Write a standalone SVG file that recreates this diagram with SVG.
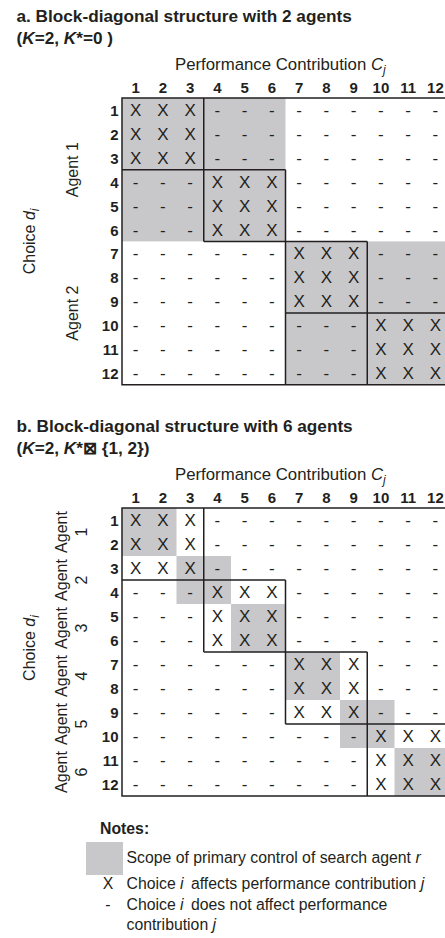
<svg xmlns="http://www.w3.org/2000/svg" width="445" height="938" viewBox="0 0 445 938">
<style>
text{font-family:"Liberation Sans",Arial,sans-serif;fill:#231f20}
.t{font-size:17.2px;font-weight:bold}
.lbl{font-size:16.8px}
.ag{font-size:16px;text-anchor:middle}
.h{font-size:15px;font-weight:bold;text-anchor:middle}
.m text{font-size:17px;text-anchor:middle}
.m text.n{font-size:15px;font-weight:bold;text-anchor:end}
.g{fill:#c8c8ca}
.ln{stroke:#231f20;stroke-width:1.5;fill:none}
.nt{font-size:15.8px}
</style>
<rect width="445" height="938" fill="#fff"/>

<g id="panel-a">
<text class="t" x="16.5" y="22">a. Block-diagonal structure with 2 agents</text>
<text class="t" x="16.5" y="44">(<tspan font-style="italic">K</tspan>=2, <tspan font-style="italic">K</tspan>*=0 )</text>
<text class="lbl" x="175" y="70">Performance Contribution <tspan font-style="italic">C</tspan><tspan font-style="italic" font-size="12" dy="4">j</tspan></text>
<g id="a-headers">
<text class="h" x="135.6" y="93">1</text><text class="h" x="162.9" y="93">2</text><text class="h" x="190.1" y="93">3</text><text class="h" x="217.4" y="93">4</text><text class="h" x="244.6" y="93">5</text><text class="h" x="271.9" y="93">6</text><text class="h" x="299.1" y="93">7</text><text class="h" x="326.4" y="93">8</text><text class="h" x="353.6" y="93">9</text><text class="h" x="380.9" y="93">10</text><text class="h" x="408.1" y="93">11</text><text class="h" x="435.4" y="93">12</text>
</g>
<g id="a-shading">
<rect class="g" x="122" y="98" width="163.5" height="143.4"/>
<rect class="g" x="285.5" y="241.4" width="163.5" height="143.4"/>
</g>
<g id="a-side">
<text class="ag" transform="translate(78,169.7) rotate(-90)">Agent 1</text>
<text class="ag" transform="translate(78,313.1) rotate(-90)">Agent 2</text>
<text class="ag" transform="translate(34.5,241.4) rotate(-90)">Choice <tspan font-style="italic">d</tspan><tspan font-style="italic" font-size="12" dy="4">i</tspan></text>
</g>
<g id="a-cells" class="m">
<g transform="translate(0,116)"><text class="n" x="118.5">1</text><text x="135.6">X</text><text x="162.9">X</text><text x="190.1">X</text><text x="217.4">-</text><text x="244.6">-</text><text x="271.9">-</text><text x="299.1">-</text><text x="326.4">-</text><text x="353.6">-</text><text x="380.9">-</text><text x="408.1">-</text><text x="435.4">-</text></g>
<g transform="translate(0,139.9)"><text class="n" x="118.5">2</text><text x="135.6">X</text><text x="162.9">X</text><text x="190.1">X</text><text x="217.4">-</text><text x="244.6">-</text><text x="271.9">-</text><text x="299.1">-</text><text x="326.4">-</text><text x="353.6">-</text><text x="380.9">-</text><text x="408.1">-</text><text x="435.4">-</text></g>
<g transform="translate(0,163.8)"><text class="n" x="118.5">3</text><text x="135.6">X</text><text x="162.9">X</text><text x="190.1">X</text><text x="217.4">-</text><text x="244.6">-</text><text x="271.9">-</text><text x="299.1">-</text><text x="326.4">-</text><text x="353.6">-</text><text x="380.9">-</text><text x="408.1">-</text><text x="435.4">-</text></g>
<g transform="translate(0,187.7)"><text class="n" x="118.5">4</text><text x="135.6">-</text><text x="162.9">-</text><text x="190.1">-</text><text x="217.4">X</text><text x="244.6">X</text><text x="271.9">X</text><text x="299.1">-</text><text x="326.4">-</text><text x="353.6">-</text><text x="380.9">-</text><text x="408.1">-</text><text x="435.4">-</text></g>
<g transform="translate(0,211.6)"><text class="n" x="118.5">5</text><text x="135.6">-</text><text x="162.9">-</text><text x="190.1">-</text><text x="217.4">X</text><text x="244.6">X</text><text x="271.9">X</text><text x="299.1">-</text><text x="326.4">-</text><text x="353.6">-</text><text x="380.9">-</text><text x="408.1">-</text><text x="435.4">-</text></g>
<g transform="translate(0,235.5)"><text class="n" x="118.5">6</text><text x="135.6">-</text><text x="162.9">-</text><text x="190.1">-</text><text x="217.4">X</text><text x="244.6">X</text><text x="271.9">X</text><text x="299.1">-</text><text x="326.4">-</text><text x="353.6">-</text><text x="380.9">-</text><text x="408.1">-</text><text x="435.4">-</text></g>
<g transform="translate(0,259.4)"><text class="n" x="118.5">7</text><text x="135.6">-</text><text x="162.9">-</text><text x="190.1">-</text><text x="217.4">-</text><text x="244.6">-</text><text x="271.9">-</text><text x="299.1">X</text><text x="326.4">X</text><text x="353.6">X</text><text x="380.9">-</text><text x="408.1">-</text><text x="435.4">-</text></g>
<g transform="translate(0,283.3)"><text class="n" x="118.5">8</text><text x="135.6">-</text><text x="162.9">-</text><text x="190.1">-</text><text x="217.4">-</text><text x="244.6">-</text><text x="271.9">-</text><text x="299.1">X</text><text x="326.4">X</text><text x="353.6">X</text><text x="380.9">-</text><text x="408.1">-</text><text x="435.4">-</text></g>
<g transform="translate(0,307.2)"><text class="n" x="118.5">9</text><text x="135.6">-</text><text x="162.9">-</text><text x="190.1">-</text><text x="217.4">-</text><text x="244.6">-</text><text x="271.9">-</text><text x="299.1">X</text><text x="326.4">X</text><text x="353.6">X</text><text x="380.9">-</text><text x="408.1">-</text><text x="435.4">-</text></g>
<g transform="translate(0,331.1)"><text class="n" x="118.5">10</text><text x="135.6">-</text><text x="162.9">-</text><text x="190.1">-</text><text x="217.4">-</text><text x="244.6">-</text><text x="271.9">-</text><text x="299.1">-</text><text x="326.4">-</text><text x="353.6">-</text><text x="380.9">X</text><text x="408.1">X</text><text x="435.4">X</text></g>
<g transform="translate(0,355)"><text class="n" x="118.5">11</text><text x="135.6">-</text><text x="162.9">-</text><text x="190.1">-</text><text x="217.4">-</text><text x="244.6">-</text><text x="271.9">-</text><text x="299.1">-</text><text x="326.4">-</text><text x="353.6">-</text><text x="380.9">X</text><text x="408.1">X</text><text x="435.4">X</text></g>
<g transform="translate(0,378.9)"><text class="n" x="118.5">12</text><text x="135.6">-</text><text x="162.9">-</text><text x="190.1">-</text><text x="217.4">-</text><text x="244.6">-</text><text x="271.9">-</text><text x="299.1">-</text><text x="326.4">-</text><text x="353.6">-</text><text x="380.9">X</text><text x="408.1">X</text><text x="435.4">X</text></g>
</g>
<g id="a-lines" class="ln">
<path d="M449 98 H122 V384.8 H449"/>
<path d="M203.75 98 V241.4 M122 169.7 H285.5 M285.5 169.7 V384.8 M203.75 241.4 H367.25 M367.25 241.4 V384.8 M285.5 313.1 H449"/>
</g>
</g>

<g id="panel-b">
<text class="t" x="16.5" y="432">b. Block-diagonal structure with 6 agents</text>
<text class="t" x="16.5" y="454">(<tspan font-style="italic">K</tspan>=2, <tspan font-style="italic">K</tspan>*⊠ {1, 2})</text>
<text class="lbl" x="175" y="480">Performance Contribution <tspan font-style="italic">C</tspan><tspan font-style="italic" font-size="12" dy="4">j</tspan></text>
<g id="b-headers">
<text class="h" x="135.6" y="503">1</text><text class="h" x="162.9" y="503">2</text><text class="h" x="190.1" y="503">3</text><text class="h" x="217.4" y="503">4</text><text class="h" x="244.6" y="503">5</text><text class="h" x="271.9" y="503">6</text><text class="h" x="299.1" y="503">7</text><text class="h" x="326.4" y="503">8</text><text class="h" x="353.6" y="503">9</text><text class="h" x="380.9" y="503">10</text><text class="h" x="408.1" y="503">11</text><text class="h" x="435.4" y="503">12</text>
</g>
<g id="b-shading">
<rect class="g" x="122" y="508" width="54.5" height="48"/>
<rect class="g" x="176.5" y="556" width="54.5" height="48"/>
<rect class="g" x="231" y="604" width="54.5" height="48"/>
<rect class="g" x="285.5" y="652" width="54.5" height="48"/>
<rect class="g" x="340" y="700" width="54.5" height="48"/>
<rect class="g" x="394.5" y="748" width="54.5" height="48"/>
</g>
<g id="b-side">
<text class="ag" transform="translate(0,532) rotate(-90)"><tspan x="0" y="67">Agent</tspan><tspan x="0" y="87">1</tspan></text>
<text class="ag" transform="translate(0,580) rotate(-90)"><tspan x="0" y="67">Agent</tspan><tspan x="0" y="87">2</tspan></text>
<text class="ag" transform="translate(0,628) rotate(-90)"><tspan x="0" y="67">Agent</tspan><tspan x="0" y="87">3</tspan></text>
<text class="ag" transform="translate(0,676) rotate(-90)"><tspan x="0" y="67">Agent</tspan><tspan x="0" y="87">4</tspan></text>
<text class="ag" transform="translate(0,724) rotate(-90)"><tspan x="0" y="67">Agent</tspan><tspan x="0" y="87">5</tspan></text>
<text class="ag" transform="translate(0,772) rotate(-90)"><tspan x="0" y="67">Agent</tspan><tspan x="0" y="87">6</tspan></text>
<text class="ag" transform="translate(35,648) rotate(-90)">Choice <tspan font-style="italic">d</tspan><tspan font-style="italic" font-size="12" dy="4">i</tspan></text>
</g>
<g id="b-cells" class="m">
<g transform="translate(0,526)"><text class="n" x="118.5">1</text><text x="135.6">X</text><text x="162.9">X</text><text x="190.1">X</text><text x="217.4">-</text><text x="244.6">-</text><text x="271.9">-</text><text x="299.1">-</text><text x="326.4">-</text><text x="353.6">-</text><text x="380.9">-</text><text x="408.1">-</text><text x="435.4">-</text></g>
<g transform="translate(0,550)"><text class="n" x="118.5">2</text><text x="135.6">X</text><text x="162.9">X</text><text x="190.1">X</text><text x="217.4">-</text><text x="244.6">-</text><text x="271.9">-</text><text x="299.1">-</text><text x="326.4">-</text><text x="353.6">-</text><text x="380.9">-</text><text x="408.1">-</text><text x="435.4">-</text></g>
<g transform="translate(0,574)"><text class="n" x="118.5">3</text><text x="135.6">X</text><text x="162.9">X</text><text x="190.1">X</text><text x="217.4">-</text><text x="244.6">-</text><text x="271.9">-</text><text x="299.1">-</text><text x="326.4">-</text><text x="353.6">-</text><text x="380.9">-</text><text x="408.1">-</text><text x="435.4">-</text></g>
<g transform="translate(0,598)"><text class="n" x="118.5">4</text><text x="135.6">-</text><text x="162.9">-</text><text x="190.1">-</text><text x="217.4">X</text><text x="244.6">X</text><text x="271.9">X</text><text x="299.1">-</text><text x="326.4">-</text><text x="353.6">-</text><text x="380.9">-</text><text x="408.1">-</text><text x="435.4">-</text></g>
<g transform="translate(0,622)"><text class="n" x="118.5">5</text><text x="135.6">-</text><text x="162.9">-</text><text x="190.1">-</text><text x="217.4">X</text><text x="244.6">X</text><text x="271.9">X</text><text x="299.1">-</text><text x="326.4">-</text><text x="353.6">-</text><text x="380.9">-</text><text x="408.1">-</text><text x="435.4">-</text></g>
<g transform="translate(0,646)"><text class="n" x="118.5">6</text><text x="135.6">-</text><text x="162.9">-</text><text x="190.1">-</text><text x="217.4">X</text><text x="244.6">X</text><text x="271.9">X</text><text x="299.1">-</text><text x="326.4">-</text><text x="353.6">-</text><text x="380.9">-</text><text x="408.1">-</text><text x="435.4">-</text></g>
<g transform="translate(0,670)"><text class="n" x="118.5">7</text><text x="135.6">-</text><text x="162.9">-</text><text x="190.1">-</text><text x="217.4">-</text><text x="244.6">-</text><text x="271.9">-</text><text x="299.1">X</text><text x="326.4">X</text><text x="353.6">X</text><text x="380.9">-</text><text x="408.1">-</text><text x="435.4">-</text></g>
<g transform="translate(0,694)"><text class="n" x="118.5">8</text><text x="135.6">-</text><text x="162.9">-</text><text x="190.1">-</text><text x="217.4">-</text><text x="244.6">-</text><text x="271.9">-</text><text x="299.1">X</text><text x="326.4">X</text><text x="353.6">X</text><text x="380.9">-</text><text x="408.1">-</text><text x="435.4">-</text></g>
<g transform="translate(0,718)"><text class="n" x="118.5">9</text><text x="135.6">-</text><text x="162.9">-</text><text x="190.1">-</text><text x="217.4">-</text><text x="244.6">-</text><text x="271.9">-</text><text x="299.1">X</text><text x="326.4">X</text><text x="353.6">X</text><text x="380.9">-</text><text x="408.1">-</text><text x="435.4">-</text></g>
<g transform="translate(0,742)"><text class="n" x="118.5">10</text><text x="135.6">-</text><text x="162.9">-</text><text x="190.1">-</text><text x="217.4">-</text><text x="244.6">-</text><text x="271.9">-</text><text x="299.1">-</text><text x="326.4">-</text><text x="353.6">-</text><text x="380.9">X</text><text x="408.1">X</text><text x="435.4">X</text></g>
<g transform="translate(0,766)"><text class="n" x="118.5">11</text><text x="135.6">-</text><text x="162.9">-</text><text x="190.1">-</text><text x="217.4">-</text><text x="244.6">-</text><text x="271.9">-</text><text x="299.1">-</text><text x="326.4">-</text><text x="353.6">-</text><text x="380.9">X</text><text x="408.1">X</text><text x="435.4">X</text></g>
<g transform="translate(0,790)"><text class="n" x="118.5">12</text><text x="135.6">-</text><text x="162.9">-</text><text x="190.1">-</text><text x="217.4">-</text><text x="244.6">-</text><text x="271.9">-</text><text x="299.1">-</text><text x="326.4">-</text><text x="353.6">-</text><text x="380.9">X</text><text x="408.1">X</text><text x="435.4">X</text></g>
</g>
<g id="b-lines" class="ln">
<path d="M449 508 H122 V796 H449"/>
<path d="M203.75 508 V652 M122 580 H285.5 M285.5 580 V724 M203.75 652 H367.25 M367.25 652 V796 M285.5 724 H449"/>
</g>
</g>

<g id="notes">
<text class="nt" x="100" y="834" font-weight="bold" font-size="15">Notes:</text>
<rect class="g" x="86" y="842" width="37" height="33"/>
<text class="nt" x="126.5" y="863">Scope of primary control of search agent <tspan font-style="italic">r</tspan></text>
<text class="nt" x="108" y="889" text-anchor="middle">X</text>
<text class="nt" x="126.5" y="889">Choice <tspan font-style="italic">i</tspan><tspan dx="3"> affects performance contribution </tspan><tspan font-style="italic">j</tspan></text>
<text class="nt" x="108" y="910" text-anchor="middle">-</text>
<text class="nt" x="126.5" y="910">Choice <tspan font-style="italic">i</tspan><tspan dx="3"> does not affect performance</tspan></text>
<text class="nt" x="126.5" y="930">contribution <tspan font-style="italic">j</tspan></text>
</g>
</svg>
